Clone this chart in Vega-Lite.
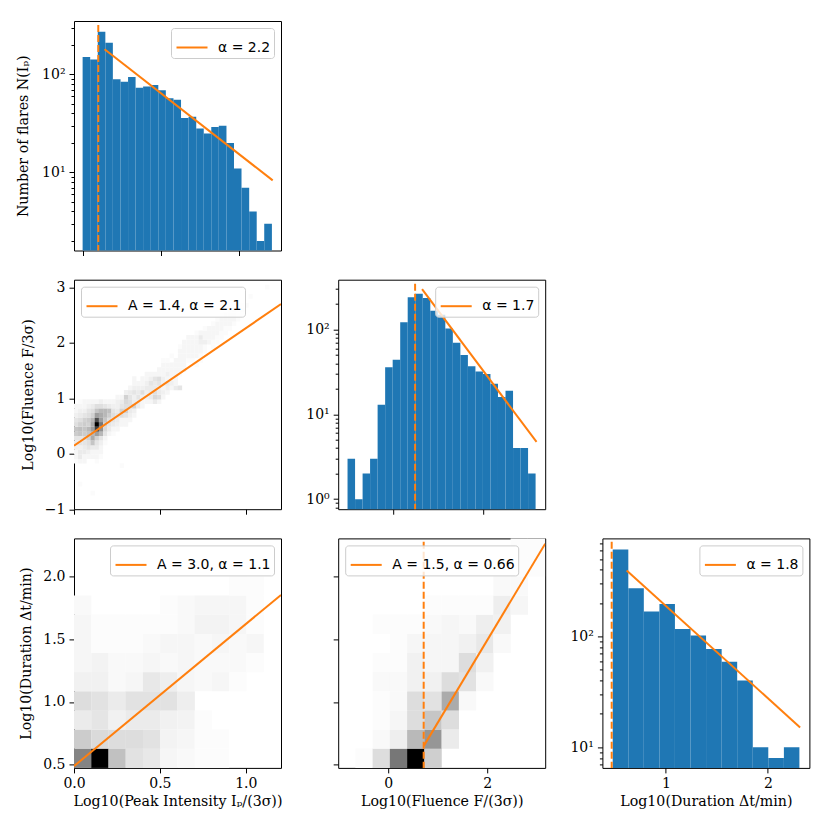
{
"$schema":"https://vega.github.io/schema/vega-lite/v6.json",
"background":"white",
"padding":{"left":16,"top":20,"right":16,"bottom":14},
"bounds":"flush",
"columns":3,
"spacing":{"row":28.7,"column":57.2},
"resolve":{"scale":{"fill":"independent","stroke":"independent"}},
"config":{
"view":{"stroke":"black","strokeWidth":1},
"axis":{"grid":false,"domain":false,"tickColor":"black","tickWidth":1,"tickSize":5,"labelFont":"DejaVu Serif","labelFontSize":14,"labelColor":"black","labelPadding":4,"labelOverlap":false,"labelFlush":false,"titleFont":"DejaVu Serif","titleFontSize":14.2,"titleFontWeight":"normal","titleColor":"black"},
"legend":{"labelFont":"DejaVu Sans","labelFontSize":14,"labelColor":"black","fillColor":"rgba(255,255,255,0.8)","strokeColor":"#cccccc","cornerRadius":3,"padding":3,"offset":7,"symbolStrokeWidth":2,"symbolSize":100,"symbolOffset":1.5,"labelOffset":9.5,"symbolType":"stroke"}
},
"concat":[
{"width":207,"height":229.5,
"encoding":{
"x":{"field":"x","type":"quantitative","scale":{"domain":[-0.055,1.266],"nice":false,"zero":false},"axis":{"values":[0,0.5,1],"labels":false,"title":null}},
"y":{"field":"y","type":"quantitative","scale":{"type":"log","domain":[1.6,350],"nice":false},"axis":{"title":"Number of flares N(Iₚ)","titlePadding":11,"values":[2,3,4,5,6,7,8,9,10,20,30,40,50,60,70,80,90,100,200,300],"labelExpr":"datum.value==10?'10¹':datum.value==100?'10²':''","tickSize":{"condition":{"test":"datum.value==10||datum.value==100","value":5},"value":3}}}
},
"layer":[
{"data":{"values":[
{"x":0,"x2":0.0483,"y":150},{"x":0.0483,"x2":0.0966,"y":142},{"x":0.0966,"x2":0.145,"y":272},{"x":0.145,"x2":0.193,"y":210},{"x":0.193,"x2":0.242,"y":89},{"x":0.242,"x2":0.29,"y":84},{"x":0.29,"x2":0.338,"y":94},{"x":0.338,"x2":0.386,"y":73},{"x":0.386,"x2":0.435,"y":75},{"x":0.435,"x2":0.483,"y":78},{"x":0.483,"x2":0.531,"y":69},{"x":0.531,"x2":0.58,"y":57},{"x":0.58,"x2":0.628,"y":55},{"x":0.628,"x2":0.676,"y":36},{"x":0.676,"x2":0.725,"y":37},{"x":0.725,"x2":0.773,"y":28},{"x":0.773,"x2":0.821,"y":25},{"x":0.821,"x2":0.869,"y":29},{"x":0.869,"x2":0.918,"y":30},{"x":0.918,"x2":0.966,"y":20},{"x":0.966,"x2":1.014,"y":11},{"x":1.014,"x2":1.063,"y":7},{"x":1.063,"x2":1.111,"y":4},{"x":1.111,"x2":1.159,"y":2},{"x":1.159,"x2":1.208,"y":3}]},
"mark":{"type":"rect","color":"#1f77b4","clip":true},
"encoding":{"x2":{"field":"x2"},"y2":{"datum":0.1}}},
{"data":{"values":[{"x":0.1,"y":318,"y2":1}]},
"mark":{"type":"rule","color":"#ff7f0e","strokeWidth":2,"strokeDash":[7,3],"clip":true},
"encoding":{"y2":{"field":"y2"}}},
{"data":{"values":[{"x":0.14,"y":180,"fit":"α = 2.2"},{"x":1.213,"y":8.3,"fit":"α = 2.2"}]},
"mark":{"type":"line","strokeWidth":2,"clip":true},
"encoding":{"stroke":{"field":"fit","type":"nominal","scale":{"range":["#ff7f0e"]},"legend":{"title":null,"orient":"top-right","encode":{"symbols":{"update":{"size":{"value":961}}}}}}}}
]},
{"width":207,"height":229.5,"view":{"stroke":null},"data":{"values":[{"a":1}]},"mark":{"type":"point","opacity":0},"encoding":{}},
{"width":207,"height":229.5,"view":{"stroke":null},"data":{"values":[{"a":1}]},"mark":{"type":"point","opacity":0},"encoding":{}},
{"width":207,"height":229.5,
"encoding":{
"x":{"field":"x","type":"quantitative","scale":{"domain":[0,1.205],"nice":false,"zero":false},"axis":{"values":[0,0.5,1],"labels":false,"title":null}},
"y":{"field":"y","type":"quantitative","scale":{"domain":[-1,3.14],"nice":false,"zero":false},"axis":{"title":"Log10(Fluence F/3σ)","titlePadding":9,"values":[-1,0,1,2,3],"format":"d"}}
},
"layer":[
{"data":{"values":[
{"x":0.036,"y":-0.546,"n":1},{"x":0.109,"y":-0.711,"n":1},{"x":0.278,"y":-0.215,"n":1},
{"x":0.012,"y":-0.133,"n":1},{"x":0.036,"y":-0.133,"n":2},{"x":0.061,"y":-0.133,"n":2},{"x":0.133,"y":-0.133,"n":1},
{"x":0.012,"y":-0.05,"n":2},{"x":0.036,"y":-0.05,"n":4},{"x":0.061,"y":-0.05,"n":2},{"x":0.085,"y":-0.05,"n":2},{"x":0.109,"y":-0.05,"n":2},{"x":0.133,"y":-0.05,"n":2},{"x":0.157,"y":-0.05,"n":1},
{"x":0.012,"y":0.032,"n":2},{"x":0.036,"y":0.032,"n":4},{"x":0.061,"y":0.032,"n":4},{"x":0.085,"y":0.032,"n":3},{"x":0.109,"y":0.032,"n":2},{"x":0.133,"y":0.032,"n":2},{"x":0.157,"y":0.032,"n":2},
{"x":0.012,"y":0.115,"n":3},{"x":0.036,"y":0.115,"n":3},{"x":0.061,"y":0.115,"n":4},{"x":0.085,"y":0.115,"n":5},{"x":0.109,"y":0.115,"n":4},{"x":0.133,"y":0.115,"n":4},{"x":0.157,"y":0.115,"n":2},
{"x":0.012,"y":0.198,"n":4},{"x":0.036,"y":0.198,"n":5},{"x":0.061,"y":0.198,"n":5},{"x":0.085,"y":0.198,"n":6},{"x":0.109,"y":0.198,"n":10},{"x":0.133,"y":0.198,"n":5},{"x":0.157,"y":0.198,"n":3},{"x":0.182,"y":0.198,"n":1},
{"x":0.012,"y":0.28,"n":5},{"x":0.036,"y":0.28,"n":5},{"x":0.061,"y":0.28,"n":6},{"x":0.085,"y":0.28,"n":8},{"x":0.109,"y":0.28,"n":14},{"x":0.133,"y":0.28,"n":8},{"x":0.157,"y":0.28,"n":5},{"x":0.182,"y":0.28,"n":2},
{"x":0.012,"y":0.363,"n":9},{"x":0.036,"y":0.363,"n":10},{"x":0.061,"y":0.363,"n":9},{"x":0.085,"y":0.363,"n":10},{"x":0.109,"y":0.363,"n":12},{"x":0.133,"y":0.363,"n":16},{"x":0.157,"y":0.363,"n":12},{"x":0.182,"y":0.363,"n":5},{"x":0.206,"y":0.363,"n":2},{"x":0.23,"y":0.363,"n":1},
{"x":0.012,"y":0.446,"n":10},{"x":0.036,"y":0.446,"n":11},{"x":0.061,"y":0.446,"n":10},{"x":0.085,"y":0.446,"n":12},{"x":0.109,"y":0.446,"n":16},{"x":0.133,"y":0.446,"n":30},{"x":0.157,"y":0.446,"n":18},{"x":0.182,"y":0.446,"n":7},{"x":0.206,"y":0.446,"n":4},{"x":0.23,"y":0.446,"n":2},{"x":0.254,"y":0.446,"n":2},
{"x":0.012,"y":0.528,"n":6},{"x":0.036,"y":0.528,"n":8},{"x":0.061,"y":0.528,"n":9},{"x":0.085,"y":0.528,"n":8},{"x":0.109,"y":0.528,"n":14},{"x":0.133,"y":0.528,"n":40},{"x":0.157,"y":0.528,"n":22},{"x":0.182,"y":0.528,"n":8},{"x":0.206,"y":0.528,"n":5},{"x":0.23,"y":0.528,"n":4},{"x":0.254,"y":0.528,"n":3},{"x":0.278,"y":0.528,"n":2},{"x":0.303,"y":0.528,"n":2},
{"x":0.012,"y":0.611,"n":5},{"x":0.036,"y":0.611,"n":6},{"x":0.061,"y":0.611,"n":8},{"x":0.085,"y":0.611,"n":9},{"x":0.109,"y":0.611,"n":12},{"x":0.133,"y":0.611,"n":28},{"x":0.157,"y":0.611,"n":16},{"x":0.182,"y":0.611,"n":10},{"x":0.206,"y":0.611,"n":6},{"x":0.23,"y":0.611,"n":5},{"x":0.254,"y":0.611,"n":4},{"x":0.278,"y":0.611,"n":2},{"x":0.303,"y":0.611,"n":2},{"x":0.327,"y":0.611,"n":2},
{"x":0.012,"y":0.694,"n":3},{"x":0.036,"y":0.694,"n":4},{"x":0.061,"y":0.694,"n":5},{"x":0.085,"y":0.694,"n":6},{"x":0.109,"y":0.694,"n":8},{"x":0.133,"y":0.694,"n":16},{"x":0.157,"y":0.694,"n":14},{"x":0.182,"y":0.694,"n":12},{"x":0.206,"y":0.694,"n":9},{"x":0.23,"y":0.694,"n":6},{"x":0.254,"y":0.694,"n":5},{"x":0.278,"y":0.694,"n":6},{"x":0.303,"y":0.694,"n":5},{"x":0.327,"y":0.694,"n":3},{"x":0.351,"y":0.694,"n":2},
{"x":0.012,"y":0.776,"n":2},{"x":0.036,"y":0.776,"n":3},{"x":0.061,"y":0.776,"n":3},{"x":0.085,"y":0.776,"n":5},{"x":0.109,"y":0.776,"n":6},{"x":0.133,"y":0.776,"n":10},{"x":0.157,"y":0.776,"n":12},{"x":0.182,"y":0.776,"n":12},{"x":0.206,"y":0.776,"n":11},{"x":0.23,"y":0.776,"n":5},{"x":0.254,"y":0.776,"n":4},{"x":0.278,"y":0.776,"n":8},{"x":0.303,"y":0.776,"n":8},{"x":0.327,"y":0.776,"n":4},{"x":0.351,"y":0.776,"n":3},
{"x":0.012,"y":0.859,"n":2},{"x":0.036,"y":0.859,"n":2},{"x":0.061,"y":0.859,"n":2},{"x":0.085,"y":0.859,"n":3},{"x":0.109,"y":0.859,"n":4},{"x":0.133,"y":0.859,"n":6},{"x":0.157,"y":0.859,"n":6},{"x":0.182,"y":0.859,"n":5},{"x":0.206,"y":0.859,"n":4},{"x":0.23,"y":0.859,"n":3},{"x":0.254,"y":0.859,"n":3},{"x":0.278,"y":0.859,"n":5},{"x":0.303,"y":0.859,"n":6},{"x":0.327,"y":0.859,"n":6},{"x":0.351,"y":0.859,"n":8},{"x":0.375,"y":0.859,"n":4},{"x":0.399,"y":0.859,"n":2},
{"x":0.036,"y":0.941,"n":1},{"x":0.061,"y":0.941,"n":2},{"x":0.085,"y":0.941,"n":2},{"x":0.109,"y":0.941,"n":2},{"x":0.133,"y":0.941,"n":2},{"x":0.157,"y":0.941,"n":3},{"x":0.182,"y":0.941,"n":2},{"x":0.206,"y":0.941,"n":2},{"x":0.23,"y":0.941,"n":2},{"x":0.254,"y":0.941,"n":3},{"x":0.278,"y":0.941,"n":4},{"x":0.303,"y":0.941,"n":7},{"x":0.327,"y":0.941,"n":6},{"x":0.351,"y":0.941,"n":4},{"x":0.375,"y":0.941,"n":4},{"x":0.399,"y":0.941,"n":2},{"x":0.424,"y":0.941,"n":2},{"x":0.448,"y":0.941,"n":2},{"x":0.472,"y":0.941,"n":4},{"x":0.496,"y":0.941,"n":2},
{"x":0.254,"y":1.024,"n":2},{"x":0.278,"y":1.024,"n":2},{"x":0.303,"y":1.024,"n":8},{"x":0.327,"y":1.024,"n":5},{"x":0.351,"y":1.024,"n":3},{"x":0.375,"y":1.024,"n":5},{"x":0.399,"y":1.024,"n":3},{"x":0.424,"y":1.024,"n":3},{"x":0.448,"y":1.024,"n":4},{"x":0.472,"y":1.024,"n":7},{"x":0.496,"y":1.024,"n":6},{"x":0.52,"y":1.024,"n":2},
{"x":0.303,"y":1.106,"n":3},{"x":0.327,"y":1.106,"n":4},{"x":0.351,"y":1.106,"n":5},{"x":0.375,"y":1.106,"n":4},{"x":0.399,"y":1.106,"n":6},{"x":0.424,"y":1.106,"n":3},{"x":0.448,"y":1.106,"n":4},{"x":0.472,"y":1.106,"n":6},{"x":0.496,"y":1.106,"n":4},{"x":0.52,"y":1.106,"n":3},{"x":0.545,"y":1.106,"n":2},
{"x":0.327,"y":1.189,"n":2},{"x":0.351,"y":1.189,"n":3},{"x":0.375,"y":1.189,"n":3},{"x":0.399,"y":1.189,"n":3},{"x":0.424,"y":1.189,"n":4},{"x":0.448,"y":1.189,"n":4},{"x":0.472,"y":1.189,"n":4},{"x":0.496,"y":1.189,"n":3},{"x":0.52,"y":1.189,"n":2},{"x":0.545,"y":1.189,"n":3},{"x":0.569,"y":1.189,"n":2},{"x":0.593,"y":1.189,"n":4},{"x":0.617,"y":1.189,"n":5},
{"x":0.351,"y":1.272,"n":2},{"x":0.375,"y":1.272,"n":2},{"x":0.399,"y":1.272,"n":2},{"x":0.424,"y":1.272,"n":3},{"x":0.448,"y":1.272,"n":5},{"x":0.472,"y":1.272,"n":4},{"x":0.496,"y":1.272,"n":5},{"x":0.52,"y":1.272,"n":3},{"x":0.545,"y":1.272,"n":4},{"x":0.569,"y":1.272,"n":3},{"x":0.593,"y":1.272,"n":2},
{"x":0.351,"y":1.354,"n":2},{"x":0.399,"y":1.354,"n":2},{"x":0.424,"y":1.354,"n":2},{"x":0.448,"y":1.354,"n":3},{"x":0.472,"y":1.354,"n":5},{"x":0.496,"y":1.354,"n":6},{"x":0.52,"y":1.354,"n":3},{"x":0.545,"y":1.354,"n":2},{"x":0.569,"y":1.354,"n":2},{"x":0.593,"y":1.354,"n":2},
{"x":0.424,"y":1.437,"n":2},{"x":0.448,"y":1.437,"n":2},{"x":0.472,"y":1.437,"n":2},{"x":0.496,"y":1.437,"n":2},{"x":0.52,"y":1.437,"n":2},{"x":0.545,"y":1.437,"n":3},{"x":0.569,"y":1.437,"n":2},{"x":0.593,"y":1.437,"n":2},{"x":0.617,"y":1.437,"n":1},
{"x":0.496,"y":1.52,"n":2},{"x":0.52,"y":1.52,"n":2},{"x":0.545,"y":1.52,"n":2},{"x":0.569,"y":1.52,"n":2},{"x":0.593,"y":1.52,"n":2},{"x":0.617,"y":1.52,"n":2},{"x":0.641,"y":1.52,"n":2},
{"x":0.52,"y":1.602,"n":2},{"x":0.545,"y":1.602,"n":2},{"x":0.569,"y":1.602,"n":2},{"x":0.593,"y":1.602,"n":2},{"x":0.617,"y":1.602,"n":2},{"x":0.641,"y":1.602,"n":2},{"x":0.714,"y":1.602,"n":1},
{"x":0.52,"y":1.685,"n":1},{"x":0.545,"y":1.685,"n":1},{"x":0.593,"y":1.685,"n":2},{"x":0.617,"y":1.685,"n":2},{"x":0.641,"y":1.685,"n":2},{"x":0.666,"y":1.685,"n":1},{"x":0.69,"y":1.685,"n":1},{"x":0.738,"y":1.685,"n":1},
{"x":0.569,"y":1.767,"n":1},{"x":0.617,"y":1.767,"n":2},{"x":0.641,"y":1.767,"n":2},{"x":0.666,"y":1.767,"n":2},{"x":0.69,"y":1.767,"n":2},{"x":0.714,"y":1.767,"n":2},{"x":0.738,"y":1.767,"n":1},
{"x":0.617,"y":1.85,"n":2},{"x":0.641,"y":1.85,"n":2},{"x":0.666,"y":1.85,"n":2},{"x":0.69,"y":1.85,"n":2},{"x":0.714,"y":1.85,"n":2},{"x":0.738,"y":1.85,"n":2},{"x":0.762,"y":1.85,"n":1},
{"x":0.617,"y":1.933,"n":1},{"x":0.641,"y":1.933,"n":2},{"x":0.666,"y":1.933,"n":2},{"x":0.69,"y":1.933,"n":2},{"x":0.714,"y":1.933,"n":2},{"x":0.738,"y":1.933,"n":2},{"x":0.762,"y":1.933,"n":1},{"x":0.811,"y":1.933,"n":1},
{"x":0.641,"y":2.015,"n":2},{"x":0.666,"y":2.015,"n":2},{"x":0.69,"y":2.015,"n":2},{"x":0.714,"y":2.015,"n":2},{"x":0.738,"y":2.015,"n":3},{"x":0.762,"y":2.015,"n":3},{"x":0.787,"y":2.015,"n":2},{"x":0.811,"y":2.015,"n":1},{"x":0.835,"y":2.015,"n":1},
{"x":0.666,"y":2.098,"n":2},{"x":0.69,"y":2.098,"n":2},{"x":0.714,"y":2.098,"n":2},{"x":0.738,"y":2.098,"n":4},{"x":0.762,"y":2.098,"n":2},{"x":0.787,"y":2.098,"n":2},{"x":0.811,"y":2.098,"n":2},{"x":0.835,"y":2.098,"n":1},{"x":0.859,"y":2.098,"n":1},
{"x":0.714,"y":2.18,"n":1},{"x":0.738,"y":2.18,"n":2},{"x":0.762,"y":2.18,"n":2},{"x":0.787,"y":2.18,"n":2},{"x":0.811,"y":2.18,"n":2},{"x":0.835,"y":2.18,"n":2},{"x":0.859,"y":2.18,"n":1},{"x":0.883,"y":2.18,"n":1},
{"x":0.762,"y":2.263,"n":1},{"x":0.787,"y":2.263,"n":2},{"x":0.811,"y":2.263,"n":2},{"x":0.835,"y":2.263,"n":2},{"x":0.859,"y":2.263,"n":2},{"x":0.883,"y":2.263,"n":1},{"x":0.908,"y":2.263,"n":1},
{"x":0.811,"y":2.346,"n":1},{"x":0.835,"y":2.346,"n":2},{"x":0.859,"y":2.346,"n":2},{"x":0.883,"y":2.346,"n":2},{"x":0.908,"y":2.346,"n":2},{"x":0.932,"y":2.346,"n":1},
{"x":0.835,"y":2.428,"n":1},{"x":0.859,"y":2.428,"n":2},{"x":0.883,"y":2.428,"n":2},{"x":0.908,"y":2.428,"n":2},{"x":0.932,"y":2.428,"n":2},{"x":0.956,"y":2.428,"n":1},
{"x":0.859,"y":2.511,"n":1},{"x":0.883,"y":2.511,"n":2},{"x":0.908,"y":2.511,"n":2},{"x":0.932,"y":2.511,"n":2},{"x":0.956,"y":2.511,"n":1},{"x":0.98,"y":2.511,"n":1},
{"x":0.908,"y":2.594,"n":1},{"x":0.932,"y":2.594,"n":2},{"x":0.956,"y":2.594,"n":1},{"x":0.98,"y":2.594,"n":2},
{"x":0.956,"y":2.676,"n":1},{"x":0.98,"y":2.676,"n":1},{"x":1.004,"y":2.676,"n":1},
{"x":1.028,"y":2.841,"n":1},{"x":1.125,"y":3.007,"n":1}]},
"mark":{"type":"rect","width":4.3,"height":4.75,"clip":true},
"encoding":{"fill":{"field":"n","type":"quantitative","scale":{"type":"pow","exponent":1.15,"domain":[0,40],"range":["#ffffff","#000000"]},"legend":null}}},
{"data":{"values":[{"x":0,"y":0.145,"fit":"A = 1.4, α = 2.1"},{"x":1.205,"y":2.7,"fit":"A = 1.4, α = 2.1"}]},
"mark":{"type":"line","strokeWidth":2,"clip":true},
"encoding":{"stroke":{"field":"fit","type":"nominal","scale":{"range":["#ff7f0e"]},"legend":{"title":null,"orient":"top-left","encode":{"symbols":{"update":{"size":{"value":961}}}}}}}}
]},
{"width":207,"height":229.5,
"encoding":{
"x":{"field":"x","type":"quantitative","scale":{"domain":[-1.225,3.365],"nice":false,"zero":false},"axis":{"values":[0,2],"labels":false,"title":null}},
"y":{"field":"y","type":"quantitative","scale":{"type":"log","domain":[0.761,387],"nice":false},"axis":{"title":null,"values":[0.8,0.9,1,2,3,4,5,6,7,8,9,10,20,30,40,50,60,70,80,90,100,200,300],"labelExpr":"datum.value==1?'10⁰':datum.value==10?'10¹':datum.value==100?'10²':''","tickSize":{"condition":{"test":"datum.value==1||datum.value==10||datum.value==100","value":5},"value":3}}}
},
"layer":[
{"data":{"values":[
{"x":-1.018,"x2":-0.851,"y":3},{"x":-0.851,"x2":-0.684,"y":1},{"x":-0.684,"x2":-0.518,"y":2},{"x":-0.518,"x2":-0.351,"y":3},{"x":-0.351,"x2":-0.184,"y":13},{"x":-0.184,"x2":-0.017,"y":36},{"x":-0.017,"x2":0.15,"y":44},{"x":0.15,"x2":0.316,"y":122},{"x":0.316,"x2":0.483,"y":241},{"x":0.483,"x2":0.65,"y":264},{"x":0.65,"x2":0.817,"y":235},{"x":0.817,"x2":0.984,"y":166},{"x":0.984,"x2":1.15,"y":149},{"x":1.15,"x2":1.317,"y":103},{"x":1.317,"x2":1.484,"y":70},{"x":1.484,"x2":1.651,"y":50},{"x":1.651,"x2":1.818,"y":37},{"x":1.818,"x2":1.984,"y":32},{"x":1.984,"x2":2.151,"y":30},{"x":2.151,"x2":2.318,"y":23},{"x":2.318,"x2":2.485,"y":16},{"x":2.485,"x2":2.652,"y":19},{"x":2.652,"x2":2.818,"y":4},{"x":2.818,"x2":2.985,"y":4},{"x":2.985,"x2":3.152,"y":2}]},
"mark":{"type":"rect","color":"#1f77b4","clip":true},
"encoding":{"x2":{"field":"x2"},"y2":{"datum":0.1}}},
{"data":{"values":[{"x":0.48,"y":347,"y2":0.7}]},
"mark":{"type":"rule","color":"#ff7f0e","strokeWidth":2,"strokeDash":[7,3],"clip":true},
"encoding":{"y2":{"field":"y2"}}},
{"data":{"values":[{"x":0.635,"y":300,"fit":"α = 1.7"},{"x":3.173,"y":4.73,"fit":"α = 1.7"}]},
"mark":{"type":"line","strokeWidth":2,"clip":true},
"encoding":{"stroke":{"field":"fit","type":"nominal","scale":{"range":["#ff7f0e"]},"legend":{"title":null,"orient":"top-right","encode":{"symbols":{"update":{"size":{"value":961}}}}}}}}
]},
{"width":207,"height":229.5,"view":{"stroke":null},"data":{"values":[{"a":1}]},"mark":{"type":"point","opacity":0},"encoding":{}},
{"width":207,"height":229.5,
"encoding":{
"x":{"field":"x","type":"quantitative","scale":{"domain":[0,1.205],"nice":false,"zero":false},"axis":{"values":[0,0.5,1],"format":".1f","title":"Log10(Peak Intensity Iₚ/(3σ))"}},
"y":{"field":"y","type":"quantitative","scale":{"domain":[0.473,2.307],"nice":false,"zero":false},"axis":{"title":"Log10(Duration Δt/min)","titlePadding":9,"values":[0.5,1,1.5,2],"format":".1f"}}
},
"layer":[
{"data":{"values":[
{"x":0.05,"y":0.55,"n":45},{"x":0.151,"y":0.55,"n":100},{"x":0.251,"y":0.55,"n":22},{"x":0.351,"y":0.55,"n":10},{"x":0.452,"y":0.55,"n":8},{"x":0.552,"y":0.55,"n":3},{"x":0.653,"y":0.55,"n":2},{"x":0.753,"y":0.55,"n":1},{"x":0.853,"y":0.55,"n":1},
{"x":0.05,"y":0.703,"n":18},{"x":0.151,"y":0.703,"n":13},{"x":0.251,"y":0.703,"n":12},{"x":0.351,"y":0.703,"n":12},{"x":0.452,"y":0.703,"n":10},{"x":0.552,"y":0.703,"n":4},{"x":0.653,"y":0.703,"n":3},{"x":0.753,"y":0.703,"n":1},{"x":0.853,"y":0.703,"n":1},
{"x":0.05,"y":0.856,"n":7},{"x":0.151,"y":0.856,"n":9},{"x":0.251,"y":0.856,"n":5},{"x":0.351,"y":0.856,"n":7},{"x":0.452,"y":0.856,"n":7},{"x":0.552,"y":0.856,"n":5},{"x":0.653,"y":0.856,"n":4},{"x":0.753,"y":0.856,"n":1},
{"x":0.05,"y":1.009,"n":12},{"x":0.151,"y":1.009,"n":10},{"x":0.251,"y":1.009,"n":7},{"x":0.351,"y":1.009,"n":10},{"x":0.452,"y":1.009,"n":10},{"x":0.552,"y":1.009,"n":10},{"x":0.653,"y":1.009,"n":6},
{"x":0.05,"y":1.162,"n":5},{"x":0.151,"y":1.162,"n":5},{"x":0.251,"y":1.162,"n":2},{"x":0.351,"y":1.162,"n":3},{"x":0.452,"y":1.162,"n":8},{"x":0.552,"y":1.162,"n":6},{"x":0.653,"y":1.162,"n":3},{"x":0.753,"y":1.162,"n":2},{"x":0.853,"y":1.162,"n":3},{"x":0.954,"y":1.162,"n":1},
{"x":0.05,"y":1.315,"n":3},{"x":0.151,"y":1.315,"n":4},{"x":0.251,"y":1.315,"n":2},{"x":0.351,"y":1.315,"n":2},{"x":0.452,"y":1.315,"n":3},{"x":0.552,"y":1.315,"n":2},{"x":0.653,"y":1.315,"n":3},{"x":0.753,"y":1.315,"n":2},{"x":0.853,"y":1.315,"n":2},{"x":0.954,"y":1.315,"n":2},{"x":1.054,"y":1.315,"n":1},
{"x":0.05,"y":1.468,"n":3},{"x":0.151,"y":1.468,"n":1},{"x":0.251,"y":1.468,"n":1},{"x":0.351,"y":1.468,"n":1},{"x":0.452,"y":1.468,"n":2},{"x":0.552,"y":1.468,"n":3},{"x":0.653,"y":1.468,"n":3},{"x":0.753,"y":1.468,"n":2},{"x":0.853,"y":1.468,"n":3},{"x":0.954,"y":1.468,"n":2},{"x":1.054,"y":1.468,"n":3},
{"x":0.05,"y":1.621,"n":3},{"x":0.151,"y":1.621,"n":1},{"x":0.251,"y":1.621,"n":1},{"x":0.351,"y":1.621,"n":1},{"x":0.452,"y":1.621,"n":1},{"x":0.552,"y":1.621,"n":1},{"x":0.653,"y":1.621,"n":2},{"x":0.753,"y":1.621,"n":4},{"x":0.853,"y":1.621,"n":4},{"x":0.954,"y":1.621,"n":3},{"x":1.054,"y":1.621,"n":1},
{"x":0.05,"y":1.774,"n":2},{"x":0.552,"y":1.774,"n":1},{"x":0.653,"y":1.774,"n":2},{"x":0.753,"y":1.774,"n":3},{"x":0.853,"y":1.774,"n":3},{"x":0.954,"y":1.774,"n":3},{"x":1.054,"y":1.774,"n":1},
{"x":0.954,"y":1.927,"n":1},{"x":1.054,"y":1.927,"n":1},{"x":0.954,"y":2.08,"n":1}]},
"mark":{"type":"rect","width":17.4,"height":19.3,"clip":true},
"encoding":{"fill":{"field":"n","type":"quantitative","scale":{"domain":[0,100],"range":["#ffffff","#000000"]},"legend":null}}},
{"data":{"values":[{"x":0,"y":0.487,"fit":"A = 3.0, α = 1.1"},{"x":1.205,"y":1.855,"fit":"A = 3.0, α = 1.1"}]},
"mark":{"type":"line","strokeWidth":2,"clip":true},
"encoding":{"stroke":{"field":"fit","type":"nominal","scale":{"range":["#ff7f0e"]},"legend":{"title":null,"orient":"top-right","encode":{"symbols":{"update":{"size":{"value":961}}}}}}}}
]},
{"width":207,"height":229.5,
"encoding":{
"x":{"field":"x","type":"quantitative","scale":{"domain":[-1.007,3.17],"nice":false,"zero":false},"axis":{"values":[0,2],"format":"d","title":"Log10(Fluence F/(3σ))"}},
"y":{"field":"y","type":"quantitative","scale":{"domain":[0.473,2.307],"nice":false,"zero":false},"axis":{"title":null,"values":[0.5,1,1.5,2],"labels":false}}
},
"layer":[
{"data":{"values":[
{"x":-0.485,"y":0.55,"n":1},{"x":-0.137,"y":0.55,"n":12},{"x":0.211,"y":0.55,"n":50},{"x":0.559,"y":0.55,"n":100},{"x":0.907,"y":0.55,"n":17},
{"x":-0.137,"y":0.703,"n":2},{"x":0.211,"y":0.703,"n":6},{"x":0.559,"y":0.703,"n":25},{"x":0.907,"y":0.703,"n":38},{"x":1.255,"y":0.703,"n":7},
{"x":-0.137,"y":0.856,"n":1},{"x":0.211,"y":0.856,"n":3},{"x":0.559,"y":0.856,"n":12},{"x":0.907,"y":0.856,"n":20},{"x":1.255,"y":0.856,"n":12},
{"x":-0.137,"y":1.009,"n":1},{"x":0.211,"y":1.009,"n":2},{"x":0.559,"y":1.009,"n":12},{"x":0.907,"y":1.009,"n":10},{"x":1.255,"y":1.009,"n":30},{"x":1.603,"y":1.009,"n":2},
{"x":-0.137,"y":1.162,"n":2},{"x":0.211,"y":1.162,"n":2},{"x":0.559,"y":1.162,"n":5},{"x":0.907,"y":1.162,"n":5},{"x":1.255,"y":1.162,"n":12},{"x":1.603,"y":1.162,"n":10},{"x":1.951,"y":1.162,"n":2},
{"x":-0.137,"y":1.315,"n":1},{"x":0.211,"y":1.315,"n":1},{"x":0.559,"y":1.315,"n":5},{"x":0.907,"y":1.315,"n":3},{"x":1.255,"y":1.315,"n":3},{"x":1.603,"y":1.315,"n":12},{"x":1.951,"y":1.315,"n":5},
{"x":0.211,"y":1.468,"n":1},{"x":0.559,"y":1.468,"n":3},{"x":0.907,"y":1.468,"n":3},{"x":1.255,"y":1.468,"n":3},{"x":1.603,"y":1.468,"n":5},{"x":1.951,"y":1.468,"n":8},{"x":2.299,"y":1.468,"n":2},
{"x":-0.137,"y":1.621,"n":1},{"x":0.211,"y":1.621,"n":1},{"x":0.559,"y":1.621,"n":1},{"x":0.907,"y":1.621,"n":2},{"x":1.255,"y":1.621,"n":3},{"x":1.603,"y":1.621,"n":2},{"x":1.951,"y":1.621,"n":6},{"x":2.299,"y":1.621,"n":5},
{"x":0.907,"y":1.774,"n":1},{"x":1.255,"y":1.774,"n":1},{"x":1.603,"y":1.774,"n":1},{"x":1.951,"y":1.774,"n":1},{"x":2.299,"y":1.774,"n":6},{"x":2.647,"y":1.774,"n":3},
{"x":2.299,"y":1.927,"n":2},{"x":2.647,"y":1.927,"n":2},
{"x":2.647,"y":2.08,"n":1},{"x":2.995,"y":2.08,"n":1},{"x":2.647,"y":2.234,"n":1},{"x":2.995,"y":2.234,"n":1}]},
"mark":{"type":"rect","width":17.4,"height":19.3,"clip":true},
"encoding":{"fill":{"field":"n","type":"quantitative","scale":{"domain":[0,100],"range":["#ffffff","#000000"]},"legend":null}}},
{"data":{"values":[{"x":0.718,"y":2.28,"y2":0.473}]},
"mark":{"type":"rule","color":"#ff7f0e","strokeWidth":2,"strokeDash":[7,3],"clip":true},
"encoding":{"y2":{"field":"y2"}}},
{"data":{"values":[{"x":0.718,"y":0.647,"fit":"A = 1.5, α = 0.66"},{"x":3.17,"y":2.265,"fit":"A = 1.5, α = 0.66"}]},
"mark":{"type":"line","strokeWidth":2,"clip":true},
"encoding":{"stroke":{"field":"fit","type":"nominal","scale":{"range":["#ff7f0e"]},"legend":{"title":null,"orient":"top-left","encode":{"symbols":{"update":{"size":{"value":961}}}}}}}}
]},
{"width":207,"height":229.5,
"encoding":{
"x":{"field":"x","type":"quantitative","scale":{"domain":[0.378,2.407],"nice":false,"zero":false},"axis":{"values":[1,2],"format":"d","title":"Log10(Duration Δt/min)"}},
"y":{"field":"y","type":"quantitative","scale":{"type":"log","domain":[6.5,769],"nice":false},"axis":{"title":null,"values":[7,8,9,10,20,30,40,50,60,70,80,90,100,200,300,400,500,600,700],"labelExpr":"datum.value==10?'10¹':datum.value==100?'10²':''","tickSize":{"condition":{"test":"datum.value==10||datum.value==100","value":5},"value":3}}}
},
"layer":[
{"data":{"values":[
{"x":0.479,"x2":0.632,"y":611},{"x":0.632,"x2":0.784,"y":272},{"x":0.784,"x2":0.937,"y":168},{"x":0.937,"x2":1.089,"y":196},{"x":1.089,"x2":1.242,"y":117},{"x":1.242,"x2":1.394,"y":102},{"x":1.394,"x2":1.547,"y":77},{"x":1.547,"x2":1.699,"y":59},{"x":1.699,"x2":1.852,"y":40},{"x":1.852,"x2":2.004,"y":10},{"x":2.004,"x2":2.157,"y":8},{"x":2.157,"x2":2.309,"y":10}]},
"mark":{"type":"rect","color":"#1f77b4","clip":true},
"encoding":{"x2":{"field":"x2"},"y2":{"datum":1}}},
{"data":{"values":[{"x":0.469,"y":716,"y2":6}]},
"mark":{"type":"rule","color":"#ff7f0e","strokeWidth":2,"strokeDash":[7,3],"clip":true},
"encoding":{"y2":{"field":"y2"}}},
{"data":{"values":[{"x":0.616,"y":395,"fit":"α = 1.8"},{"x":2.316,"y":15.07,"fit":"α = 1.8"}]},
"mark":{"type":"line","strokeWidth":2,"clip":true},
"encoding":{"stroke":{"field":"fit","type":"nominal","scale":{"range":["#ff7f0e"]},"legend":{"title":null,"orient":"top-right","encode":{"symbols":{"update":{"size":{"value":961}}}}}}}}
]}
]
}
